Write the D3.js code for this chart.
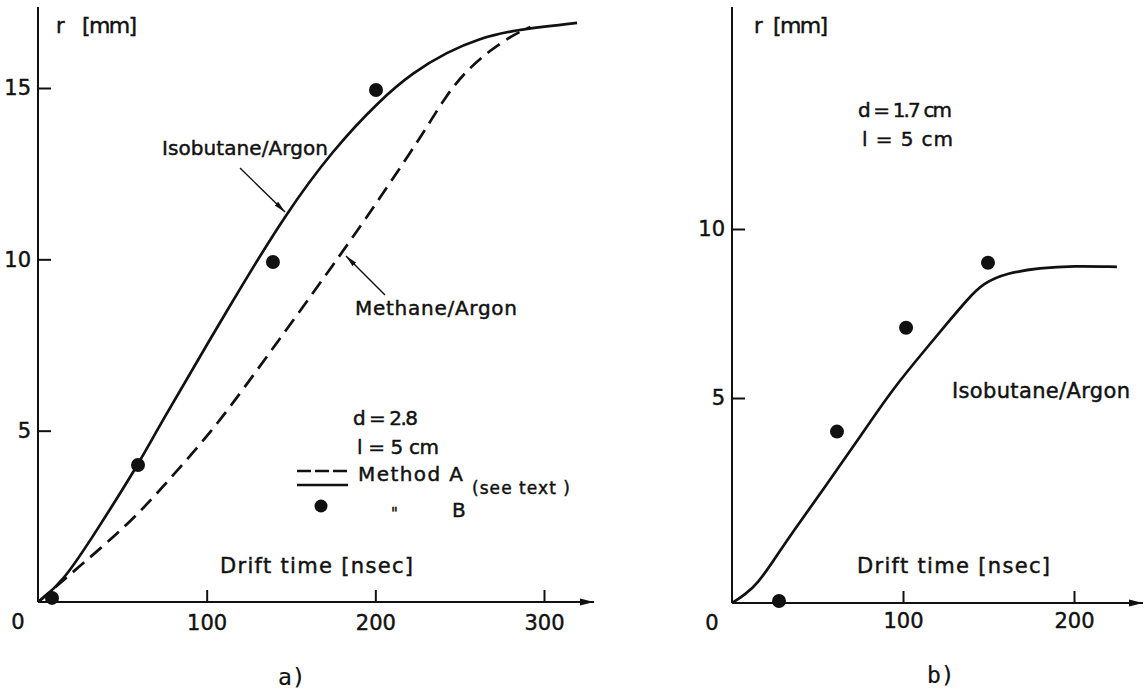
<!DOCTYPE html>
<html>
<head>
<meta charset="utf-8">
<script src="https://cdn.jsdelivr.net/npm/d3@7"></script>
<style>
body { margin: 0; background: #fff; }
svg { display: block; }
text { font-family: "DejaVu Sans", sans-serif; fill: #111; stroke: #111; stroke-width: 0.45px; }
</style>
</head>
<body>
<div id="chart"></div>
<script>
// a) drift time [nsec] -> r [mm], d = 2.8, l = 5 cm
var timeTicksA = [100, 200, 300];
var radiusTicksA = [5, 10, 15];
var isobutaneA = [[0,0],[14.8,0.58],[35,2.1],[59.3,4.0],[70.5,5.02],[115.6,8.81],[146.4,11.3],[174.9,13.2],
                  [202.8,14.65],[222.3,15.45],[242.5,16.05],[262,16.45],[281.6,16.69],[319.6,16.9]];
var methaneA = [[0,0],[24.9,1.05],[54.5,2.31],[74.1,3.36],[103.8,5.02],[125.7,6.48],[179,10.1],[204,11.88],
                [220.5,13.1],[230.6,13.86],[242.5,14.82],[254.3,15.52],[268,16.1],[281.6,16.55],[292,16.78]];
var methodB_A = [[8.3,0.12],[59.3,4.0],[139.3,9.92],[200.4,14.94]];

// b) d = 1.7 cm, l = 5 cm
var timeTicksB = [100, 200];
var radiusTicksB = [5, 10];
var isobutaneB = [[0,0],[7.6,0.2],[15.2,0.49],[23.4,0.98],[35.1,1.71],[54.4,2.83],[73.7,3.98],[93.6,5.25],
                  [114,6.49],[127.5,7.31],[137.4,7.9],[146.8,8.4],[160.8,8.7],[180.1,8.85],[199.4,8.91],[225.1,8.88]];
var methodB_B = [[27.5,0.05],[61.4,4.18],[101.8,7.08],[149.7,9.0]];

var width = 1147, height = 691;
var ink = "#111";
var tickFont = '"DejaVu Sans", sans-serif';

var svg = d3.select("#chart").append("svg")
    .attr("width", width)
    .attr("height", height);

var defs = svg.append("defs");
defs.append("marker")
    .attr("id", "axis-arrow")
    .attr("markerUnits", "userSpaceOnUse")
    .attr("viewBox", "0 -4 14 8")
    .attr("refX", 14).attr("refY", 0)
    .attr("markerWidth", 14).attr("markerHeight", 8)
    .attr("orient", "auto")
  .append("path")
    .attr("d", "M0,-3.5L14,0L0,3.5Z")
    .attr("fill", ink);
defs.append("marker")
    .attr("id", "note-arrow")
    .attr("markerUnits", "userSpaceOnUse")
    .attr("viewBox", "0 -3 12 6")
    .attr("refX", 12).attr("refY", 0)
    .attr("markerWidth", 12).attr("markerHeight", 6)
    .attr("orient", "auto")
  .append("path")
    .attr("d", "M0,-2.6L12,0L0,2.6Z")
    .attr("fill", ink);

function drawAxes(x, y, xTicks, yTicks, yTop, xEnd, xPad) {
  var g = svg.append("g");
  g.append("line")
      .attr("x1", x(0)).attr("x2", x(0))
      .attr("y1", y(0)).attr("y2", yTop)
      .attr("stroke", ink).attr("stroke-width", 2);
  g.append("line")
      .attr("x1", x(0)).attr("x2", xEnd)
      .attr("y1", y(0)).attr("y2", y(0))
      .attr("stroke", ink).attr("stroke-width", 2)
      .attr("marker-end", "url(#axis-arrow)");

  var yAxis = d3.axisLeft(y).tickValues(yTicks)
      .tickSizeInner(-13).tickSizeOuter(0).tickPadding(7);
  var xAxis = d3.axisBottom(x).tickValues(xTicks)
      .tickSizeInner(-12).tickSizeOuter(0).tickPadding(xPad);

  g.append("g")
      .attr("transform", "translate(" + x(0) + ",0)")
      .call(yAxis);
  g.append("g")
      .attr("transform", "translate(0," + y(0) + ")")
      .call(xAxis);

  g.selectAll(".domain").remove();
  g.selectAll(".tick line").attr("stroke", ink).attr("stroke-width", 2);
  g.selectAll(".tick text")
      .attr("fill", ink)
      .style("font-family", tickFont)
      .style("font-size", "21px");

  // corner zero
  g.append("text")
      .attr("x", x(0) - 20).attr("y", y(0) + 27)
      .attr("text-anchor", "middle")
      .style("font-family", tickFont)
      .style("font-size", "21px")
      .text("0");
  return g;
}

function label(px, py, txt, size, len) {
  var t = svg.append("text")
      .attr("x", px).attr("y", py)
      .style("font-size", size + "px")
      .text(txt);
  if (len) t.attr("textLength", len);
  return t;
}

var line = d3.line().curve(d3.curveBasis);

// ---------- panel a ----------
var xA = d3.scaleLinear().domain([0, 300]).range([38, 544]);
var yA = d3.scaleLinear().domain([0, 15]).range([602, 88]);
drawAxes(xA, yA, timeTicksA, radiusTicksA, 7, 594, 13);

line.x(function(d){ return xA(d[0]); }).y(function(d){ return yA(d[1]); });

svg.append("path")
    .attr("d", line(methaneA))
    .attr("fill", "none").attr("stroke", ink)
    .attr("stroke-width", 2.7)
    .attr("stroke-dasharray", "15,8");
svg.append("path")
    .attr("d", line(isobutaneA))
    .attr("fill", "none").attr("stroke", ink)
    .attr("stroke-width", 2.7);

svg.append("g").selectAll("circle")
    .data(methodB_A)
  .enter().append("circle")
    .attr("cx", function(d){ return xA(d[0]); })
    .attr("cy", function(d){ return yA(d[1]); })
    .attr("r", 7)
    .attr("fill", ink);

label(56, 33, "r", 21);
label(82, 33, "[mm]", 22, 55);
label(162, 155, "Isobutane/Argon", 20, 166);
label(355, 315, "Methane/Argon", 20, 162);
label(353, 425, "d = 2.8", 20, 65);
label(357, 454, "l = 5 cm", 20, 82);
label(358, 481, "Method  A", 20, 105);
label(472, 494, "(see text )", 17, 98);
label(391, 519, "\"", 15);
label(452, 517, "B", 20);
label(220, 573, "Drift  time  [nsec]", 21, 193);

svg.append("line")
    .attr("x1", 297).attr("x2", 348).attr("y1", 471).attr("y2", 471)
    .attr("stroke", ink).attr("stroke-width", 2.4)
    .attr("stroke-dasharray", "14,4");
svg.append("line")
    .attr("x1", 297).attr("x2", 348).attr("y1", 485).attr("y2", 485)
    .attr("stroke", ink).attr("stroke-width", 2.4);
svg.append("circle")
    .attr("cx", 321).attr("cy", 506).attr("r", 6.5).attr("fill", ink);

svg.append("line")
    .attr("x1", 240).attr("y1", 168).attr("x2", 285).attr("y2", 212)
    .attr("stroke", ink).attr("stroke-width", 1.4)
    .attr("marker-end", "url(#note-arrow)");
svg.append("line")
    .attr("x1", 385).attr("y1", 295).attr("x2", 346).attr("y2", 256)
    .attr("stroke", ink).attr("stroke-width", 1.4)
    .attr("marker-end", "url(#note-arrow)");

svg.append("text")
    .attr("x", 278).attr("y", 685)
    .style("font-family", '"DejaVu Sans Mono", monospace')
    .style("font-size", "23px")
    .style("stroke-width", "0.2px")
    .text("a)");

// ---------- panel b ----------
var xB = d3.scaleLinear().domain([0, 200]).range([732, 1074]);
var yB = d3.scaleLinear().domain([0, 5, 10]).range([603, 398, 229]);
drawAxes(xB, yB, timeTicksB, radiusTicksB, 7, 1143, 10);

line.x(function(d){ return xB(d[0]); }).y(function(d){ return yB(d[1]); });

svg.append("path")
    .attr("d", line(isobutaneB))
    .attr("fill", "none").attr("stroke", ink)
    .attr("stroke-width", 2.7);

svg.append("g").selectAll("circle")
    .data(methodB_B)
  .enter().append("circle")
    .attr("cx", function(d){ return xB(d[0]); })
    .attr("cy", function(d){ return yB(d[1]); })
    .attr("r", 7)
    .attr("fill", ink);

label(754, 33, "r", 21);
label(773, 33, "[mm]", 22, 55);
label(858, 117, "d = 1.7 cm", 20, 94);
label(862, 146, "l  =  5  cm", 20, 91);
label(952, 398, "Isobutane/Argon", 21, 178);
label(857, 573, "Drift  time  [nsec]", 21, 193);

svg.append("text")
    .attr("x", 927).attr("y", 683)
    .style("font-family", '"DejaVu Sans Mono", monospace')
    .style("font-size", "23px")
    .style("stroke-width", "0.2px")
    .text("b)");
</script>
</body>
</html>
